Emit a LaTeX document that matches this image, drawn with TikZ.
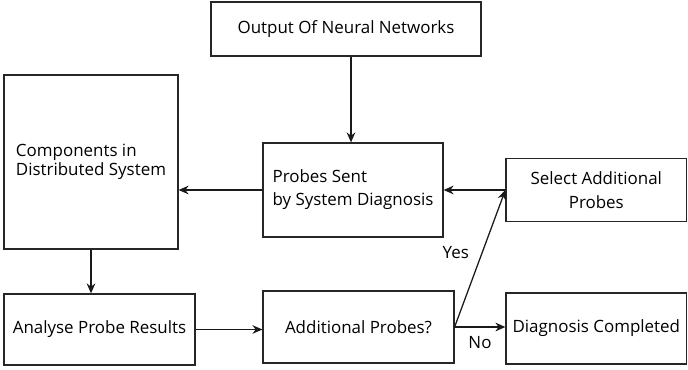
\documentclass[tikz,border=0pt]{standalone}
\usepackage{fontspec}
\setmainfont{Open Sans}
\usetikzlibrary{positioning,arrows.meta}
\begin{document}
\begin{tikzpicture}[
    x=0.75pt, y=-0.75pt,
    box/.style={draw=black!85, line width=0.9pt, rectangle, align=center, inner sep=2pt, font=\fontsize{12.7}{18}\selectfont},
    arrow/.style={-{Stealth[length=7.5pt,width=6.5pt]}, line width=0.95pt, draw=black!90},
    lbl/.style={font=\fontsize{12.7}{14}\selectfont}
]
    \useasboundingbox (0,0) rectangle (688,370);

    \node[box, minimum width=202.5pt, minimum height=40.5pt] (out) at (346,29) {Output Of Neural Networks};
    \node[box, minimum width=130.5pt, minimum height=130.5pt, align=left, font=\fontsize{12.7}{13.8}\selectfont] (comp) at (91,162) {Components in\\Distributed System};
    \node[box, minimum width=135pt, minimum height=70.5pt, align=left, font=\fontsize{12.7}{17.2}\selectfont] (probes) at (353,190) {Probes Sent\\by System Diagnosis};
    \node[box, minimum width=135.5pt, minimum height=47.5pt] (select) at (596.3,190) {Select Additional\\Probes};
    \node[box, minimum width=143.25pt, minimum height=53.25pt] (analyse) at (99.5,329.5) {Analyse Probe Results};
    \node[box, minimum width=143.25pt, minimum height=54pt] (addl) at (358.5,327) {Additional Probes?};
    \node[box, minimum width=135.5pt, minimum height=53.25pt] (done) at (596.3,328.5) {Diagnosis Completed};

    \draw[arrow] ([xshift=3.75pt]out.south) -- ([xshift=3.75pt]out.south |- probes.north);
    \draw[arrow] (probes.west) -- (probes.west -| comp.east);
    \draw[arrow] (select.west) -- (probes.east);
    \draw[arrow] (comp.south) -- (comp.south |- analyse.north);
    \draw[arrow] (analyse.east) -- (analyse.east -| addl.west);
    \draw[arrow] (addl.east) -- (addl.east -| done.west) node[lbl, pos=0.5, below=3pt] (no) {No};
    \draw[arrow] (addl.east) -- (select.west) node[lbl, pos=0.54, left=6pt] (yes) {Yes};
\end{tikzpicture}
\end{document}
